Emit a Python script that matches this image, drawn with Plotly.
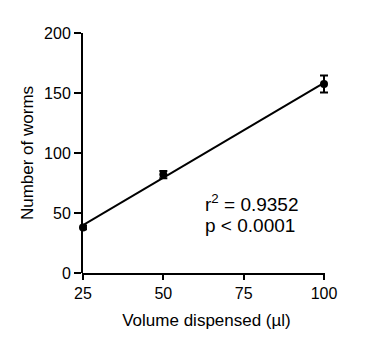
import numpy as np
import plotly.graph_objects as go

# Mean worm counts per dispensed volume, with SEM
volume = [25, 50, 100]
worms = [38, 82, 157.5]
err = [1.5, 3, 7]

x_ticks = [25, 50, 75, 100]
y_ticks = [0, 50, 100, 150, 200]

r2_text = "r<sup>2</sup> = 0.9352"
p_text = "p < 0.0001"

# Linear regression across the means
slope, intercept = np.polyfit(volume, worms, 1)
fit_x = [min(volume), max(volume)]
fit_y = [slope * v + intercept for v in fit_x]

W, H = 380, 349
ML, MR, MT, MB = 83, 50, 33, 76
plot_w = W - ML - MR
plot_h = H - MT - MB
axis_px = 241                      # drawn x axis length in px
dom = axis_px / plot_w
x_lo, x_hi = 25, 100
x_range_hi = x_lo + (x_hi - x_lo) / dom  # room for the last error bar

fig = go.Figure()
fig.add_trace(go.Scatter(
    x=fit_x, y=fit_y, mode="lines",
    line=dict(color="black", width=2), hoverinfo="skip"))
fig.add_trace(go.Scatter(
    x=volume, y=worms, mode="markers",
    marker=dict(color="black", size=8),
    error_y=dict(type="data", array=err, color="black", thickness=2, width=4),
    cliponaxis=False))

fam = "Liberation Sans, Arial, sans-serif"
title_font = dict(family=fam, size=17, color="black")
tick_font = dict(family=fam, size=16, color="black")
note_font = dict(family=fam, size=19, color="black")

fig.add_annotation(x=62.3, y=58.3, xref="x", yref="y", text=r2_text,
                   showarrow=False, xanchor="left", yanchor="middle",
                   font=note_font)
fig.add_annotation(x=62.3, y=40, xref="x", yref="y", text=p_text,
                   showarrow=False, xanchor="left", yanchor="middle",
                   font=note_font)

# x axis baseline, stopping at the last tick
fig.add_shape(type="line", xref="paper", yref="paper",
              x0=-1 / plot_w, x1=dom + 1 / plot_w,
              y0=-1 / plot_h, y1=-1 / plot_h,
              line=dict(color="black", width=2))

fig.update_layout(
    width=W, height=H,
    margin=dict(l=ML, r=MR, t=MT, b=MB),
    paper_bgcolor="white", plot_bgcolor="white",
    showlegend=False, font=tick_font,
    xaxis=dict(
        range=[x_lo, x_range_hi], tickvals=x_ticks,
        ticks="outside", ticklen=6, tickwidth=2, tickcolor="black",
        showline=False, showgrid=False, zeroline=False, tickfont=tick_font,
        title=dict(text="Volume dispensed (µl)", standoff=12, font=title_font),
    ),
    yaxis=dict(
        range=[0, 200], tickvals=y_ticks, ticks="outside", ticklen=7, tickwidth=2,
        tickcolor="black", showline=True, linecolor="black", linewidth=2,
        showgrid=False, zeroline=False, tickfont=tick_font,
        title=dict(text="Number of worms", standoff=6, font=title_font),
    ),
)

fig.write_html("out.html")
